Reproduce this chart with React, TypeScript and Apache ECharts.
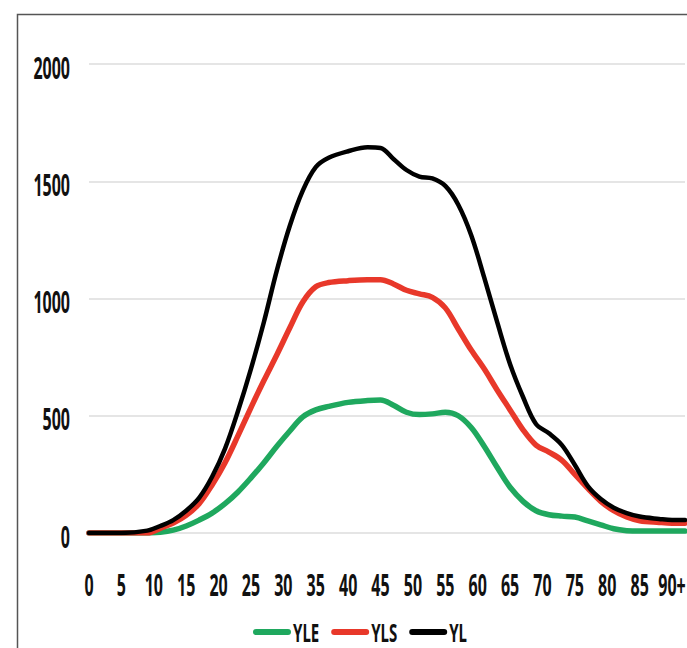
import React, { useEffect, useRef } from "react";
import * as echarts from "echarts";

const ages = [0, 5, 9, 11, 13, 15, 17, 19, 21, 23, 25, 27, 29, 31, 33, 35, 37, 40, 43, 45, 47, 49, 51, 53, 55, 57, 59, 61, 63, 65, 67, 69, 71, 73, 75, 77, 79, 81, 83, 85, 88, 90, 92];

const yle = [0, 0, 0, 3, 12, 30, 55, 85, 125, 175, 235, 300, 370, 435, 495, 525, 540, 557, 565, 567, 545, 515, 505, 508, 515, 500, 450, 370, 280, 195, 135, 95, 78, 72, 68, 52, 35, 18, 10, 8, 8, 8, 8];

const yls = [0, 0, 0, 20, 42, 75, 125, 205, 300, 415, 535, 650, 760, 875, 985, 1050, 1068, 1076, 1080, 1080, 1062, 1035, 1020, 1005, 960, 870, 780, 700, 610, 525, 440, 375, 345, 310, 250, 190, 135, 95, 68, 52, 45, 42, 42];

const yl = [0, 0, 10, 30, 55, 95, 150, 240, 360, 520, 700, 900, 1120, 1310, 1460, 1560, 1600, 1628, 1645, 1642, 1595, 1548, 1520, 1512, 1480, 1400, 1270, 1090, 900, 720, 580, 465, 425, 375, 290, 200, 145, 108, 85, 70, 60, 55, 55];

const seriesNames = ["YLE", "YLS", "YL"];
const seriesColors = ["#1fa85e", "#e8382a", "#000000"];

const xTickValues = [0, 5, 10, 15, 20, 25, 30, 35, 40, 45, 50, 55, 60, 65, 70, 75, 80, 85, 90];
const xTickLabels = ["0", "5", "10", "15", "20", "25", "30", "35", "40", "45", "50", "55", "60", "65", "70", "75", "80", "85", "90+"];
const yTickValues = [0, 500, 1000, 1500, 2000];
const yTickLabels = ["0", "500", "1000", "1500", "2000"];

const FONT_FAMILY = "'Noto Sans', 'Open Sans', sans-serif";
const FONT_SIZE = 16;
const STRETCH_Y = 1.85;

export default function App() {
  const ref = useRef<HTMLDivElement>(null);
  useEffect(() => {
    if (!ref.current) return;
    const chart = echarts.init(ref.current, null, { renderer: "svg" });
    const values = [yle, yls, yl];
    chart.setOption({
      animation: false,
      backgroundColor: "#ffffff",
      grid: { left: 89, right: 2, top: 64, bottom: 115, containLabel: false },
      xAxis: {
        type: "value",
        min: 0,
        max: 92,
        interval: 5,
        axisLine: { show: false },
        axisTick: { show: false },
        splitLine: { show: false },
        axisLabel: { show: false },
      },
      yAxis: {
        type: "value",
        min: 0,
        max: 2000,
        interval: 500,
        axisLine: { show: false },
        axisTick: { show: false },
        splitLine: { lineStyle: { color: "#dcdcdc", width: 1.5 } },
        axisLabel: { show: false },
      },
      series: seriesNames.map((name, i) => ({
        name,
        type: "line",
        data: ages.map((a, j) => [a, values[i][j]]),
        smooth: 0.35,
        symbol: "none",
        color: seriesColors[i],
        lineStyle: { color: seriesColors[i], width: i === 2 ? 4.5 : 5.5, cap: "round", join: "round" },
      })),
    });

    const textStyle = (text: string, align: string, size = FONT_SIZE) => ({
      text,
      fontFamily: FONT_FAMILY,
      fontSize: size,
      fontWeight: "bold",
      fill: "#111111",
      align,
      verticalAlign: "middle",
    });

    const graphics: any[] = [
      {
        type: "polyline",
        shape: { points: [[17.5, 648], [17.5, 14.5], [687, 14.5]] },
        style: { stroke: "#555555", lineWidth: 1.5, fill: "none" },
        silent: true,
      },
    ];

    yTickValues.forEach((v, i) => {
      const py = chart.convertToPixel({ yAxisIndex: 0 }, v) as number;
      graphics.push({
        type: "text",
        x: 70,
        y: py + 3.5,
        scaleY: STRETCH_Y,
        style: textStyle(yTickLabels[i], "right"),
        silent: true,
      });
    });

    const axisY = chart.convertToPixel({ yAxisIndex: 0 }, 0) as number;
    xTickValues.forEach((v, i) => {
      const px = chart.convertToPixel({ xAxisIndex: 0 }, v) as number;
      graphics.push({
        type: "text",
        x: px,
        y: axisY + 52,
        scaleY: STRETCH_Y,
        style: textStyle(xTickLabels[i], "center"),
        silent: true,
      });
    });

    // legend
    const LEGEND_SIZE = 15;
    const ctx = document.createElement("canvas").getContext("2d");
    let lx = 256;
    const ly = 632;
    seriesNames.forEach((name, i) => {
      graphics.push({
        type: "line",
        shape: { x1: lx, y1: ly, x2: lx + 32, y2: ly },
        style: { stroke: seriesColors[i], lineWidth: 6, lineCap: "round" },
        silent: true,
      });
      graphics.push({
        type: "text",
        x: lx + 37,
        y: ly,
        scaleY: 1.65,
        style: textStyle(name, "left", LEGEND_SIZE),
        silent: true,
      });
      let w = name.length * 9;
      if (ctx) {
        ctx.font = `bold ${LEGEND_SIZE}px ${FONT_FAMILY}`;
        w = ctx.measureText(name).width;
      }
      lx += 37 + w + 15;
    });

    chart.setOption({ graphic: graphics });
    return () => chart.dispose();
  }, []);
  return <div ref={ref} style={{ position: "fixed", left: 0, top: 0, width: 687, height: 648 }} />;
}
